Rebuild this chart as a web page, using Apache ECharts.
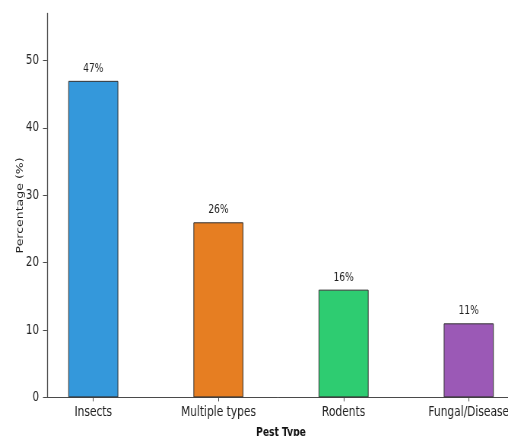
<!DOCTYPE html>
<html><head><meta charset="utf-8">
<script src="https://cdn.jsdelivr.net/npm/echarts@6/dist/echarts.min.js"></script>
<style>
html,body{margin:0;padding:0;background:#fff;overflow:hidden;width:508px;height:436px;}
#c{width:668px;height:436px;transform:scaleX(0.76048);transform-origin:0 0;}
</style>
</head><body><div id="c"></div>
<script>
const categories = ["Insects", "Multiple types", "Rodents", "Fungal/Disease"];
const values = [47, 26, 16, 11];
const colors = ["#3498db", "#e67e22", "#2ecc71", "#9b59b6"];
const yTicks = [0, 10, 20, 30, 40, 50];
const FONT = "'DejaVu Sans', sans-serif";

// The page is drawn 668px wide and squeezed horizontally to 508px (as in the reference).
const SX = 508 / 668;
const chart = echarts.init(document.getElementById('c'), null, {renderer: 'canvas', width: 668, height: 436});
const axisColor = '#4a4a4a';
chart.setOption({
  animation: false,
  grid: {left: 47 / SX, top: 13.5, width: 468 / SX, bottom: 38.6, containLabel: false, outerBoundsMode: 'none'},
  xAxis: {
    type: 'value', min: -0.37, max: 3.37,
    splitLine: {show: false},
    axisLine: {show: true, onZero: false, lineStyle: {color: axisColor, width: 1}},
    axisTick: {show: true, customValues: [0, 1, 2, 3], length: 4, lineStyle: {color: axisColor}},
    axisLabel: {customValues: [0, 1, 2, 3], formatter: v => categories[Math.round(v)], color: '#222', fontFamily: FONT, fontSize: 14, margin: 8},
    name: 'Pest Type', nameLocation: 'middle', nameGap: 29, nameMoveOverlap: false,
    nameTextStyle: {fontFamily: FONT, fontSize: 12, fontWeight: 'bold', color: '#111'}
  },
  yAxis: {
    type: 'value', min: 0, max: 57, interval: 10,
    splitLine: {show: false},
    axisLine: {show: true, onZero: false, lineStyle: {color: axisColor, width: 1.3}},
    axisTick: {show: true, customValues: yTicks, length: 4 / SX, lineStyle: {color: axisColor}},
    axisLabel: {customValues: yTicks, color: '#222', fontFamily: FONT, fontSize: 13.5, margin: 8 / SX},
    name: 'Percentage (%)', nameLocation: 'middle', nameGap: 29, nameMoveOverlap: false,
    nameTextStyle: {fontFamily: FONT, fontSize: 12.5, color: '#222'}
  },
  series: [{
    type: 'bar',
    barWidth: 50 / SX,
    data: values.map((v, i) => ({value: [i, v], itemStyle: {color: colors[i], borderColor: '#333', borderWidth: 1}})),
    label: {show: true, position: 'top', distance: 6, formatter: p => p.value[1] + '%', fontFamily: FONT, fontSize: 12, color: '#222'}
  }]
});
</script></body></html>
